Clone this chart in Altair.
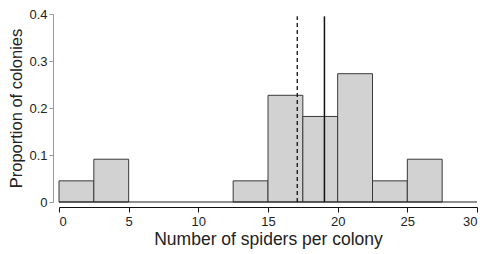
import altair as alt
import pandas as pd

bin_start = [0, 2.5, 12.5, 15, 17.5, 20, 22.5, 25]
bin_end = [2.5, 5, 15, 17.5, 20, 22.5, 25, 27.5]
proportion = [0.045, 0.091, 0.045, 0.227, 0.182, 0.273, 0.045, 0.091]

mean_value = 17.1
median_value = 19.05
line_top = 0.395

x_ticks = [0, 2.5, 5, 7.5, 10, 12.5, 15, 17.5, 20, 22.5, 25, 27.5, 30]
y_ticks = [0, 0.1, 0.2, 0.3, 0.4]

bars_df = pd.DataFrame({"start": bin_start, "end": bin_end, "p": proportion,
                        "zero": [0] * len(bin_start)})
base_df = pd.DataFrame({"x": [0], "x2": [30], "y": [0]})
mean_df = pd.DataFrame({"x": [mean_value], "y": [0], "y2": [line_top]})
median_df = pd.DataFrame({"x": [median_value], "y": [0], "y2": [line_top]})

font = "Liberation Sans"
xscale = alt.Scale(domain=[0, 30], nice=False, zero=False, padding=0)
yscale = alt.Scale(domain=[0, 0.4], nice=False, padding=0)

bars = alt.Chart(bars_df).mark_bar(
    fill="#d2d2d2", stroke="#3a3a3a", strokeWidth=1
).encode(
    x=alt.X("start:Q", scale=xscale, axis=alt.Axis(
        values=x_ticks, labelExpr="datum.value % 5 == 0 ? datum.label : ''",
        format="~g", offset=5, domainColor="#111", tickColor="#111",
        tickSize=5, labelFontSize=13, labelColor="#222", labelFont=font,
        titleFont=font, titleFontSize=17.5, titleFontWeight="normal",
        titleColor="#222", grid=False, labelPadding=3, titlePadding=2,
        domainWidth=1.2),
        title="Number of spiders per colony"),
    x2="end:Q",
    y=alt.Y("p:Q", scale=yscale, axis=alt.Axis(
        values=y_ticks, format="~g", offset=6, domainColor="#999",
        tickColor="#999", tickSize=4, labelFontSize=13, labelColor="#222",
        labelFont=font, titleFont=font, titleFontSize=16.5,
        titleFontWeight="normal", titleColor="#222", grid=False,
        labelPadding=2, titlePadding=4),
        title="Proportion of colonies"),
    y2="zero:Q",
)

baseline = alt.Chart(base_df).mark_rule(color="#222", strokeWidth=1.2).encode(
    x="x:Q", x2="x2:Q", y="y:Q"
)

mean_line = alt.Chart(mean_df).mark_rule(
    color="#111", strokeWidth=1.3, strokeDash=[4, 3]
).encode(x="x:Q", y="y:Q", y2="y2:Q")

median_line = alt.Chart(median_df).mark_rule(
    color="#111", strokeWidth=1.5
).encode(x="x:Q", y="y:Q", y2="y2:Q")

chart = alt.layer(bars, baseline, mean_line, median_line).properties(
    width=418, height=188,
    autosize=alt.AutoSizeParams(type="none"),
    padding={"left": 51, "top": 6, "right": 2, "bottom": 50},
    background="white",
).configure_view(stroke=None)

chart.save("out.html", embed_options={"renderer": "svg", "actions": False})
